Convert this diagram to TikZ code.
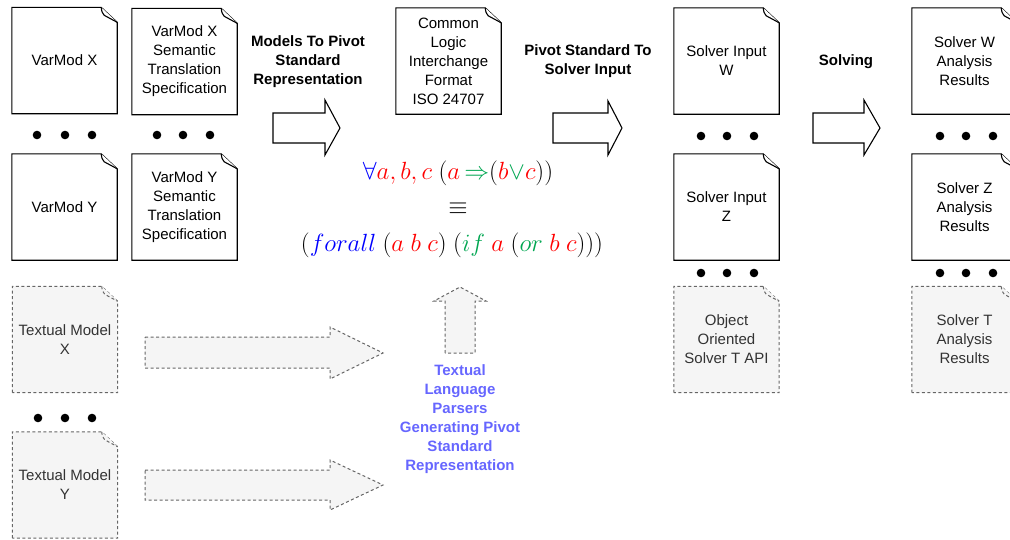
\documentclass[tikz,border=0pt]{standalone}
\usepackage[no-math]{fontspec}
\setmainfont{Liberation Sans}
\usetikzlibrary{backgrounds}
\definecolor{mygreen}{RGB}{0,166,81}
\definecolor{lblue}{RGB}{102,102,255}
\definecolor{dgray}{RGB}{102,102,102}
\definecolor{lgray}{RGB}{245,245,245}
\definecolor{tgray}{RGB}{51,51,51}
\newcommand\doctext{\fontsize{15}{19}\selectfont}
\newcommand\formulatext{\fontsize{23.2}{28}\selectfont}
\tikzset{
  docshape/.style={minimum width=105pt, minimum height=106pt, inner sep=0pt, align=center, font=\doctext},
  graydoc/.style={docshape, text=tgray},
  solidline/.style={draw=black, fill=white, line width=1.1pt},
  dashline/.style={draw=dgray, fill=lgray, line width=1pt, dash pattern=on 3pt off 2.5pt},
  title/.style={align=center, font=\doctext\bfseries},
  dot/.style={fill=black},
}
\begin{document}
\begin{tikzpicture}[x=1pt,y=-1pt]
\useasboundingbox (0,0) rectangle (1010,539);

% documents
\node[docshape] (vx)  at (64.5,60.5) {VarMod X};
\node[docshape] (vxs) at (184.5,61.5) {VarMod X\\Semantic\\Translation\\Specification};
\node[docshape] (vy)  at (64.5,207) {VarMod Y};
\node[docshape] (vys) at (184.5,207) {VarMod Y\\Semantic\\Translation\\Specification};
\node[docshape] (cl)  at (448.5,61) {Common\\Logic\\Interchange\\Format\\ISO 24707};
\node[docshape] (siw) at (726.5,61) {Solver Input\\W};
\node[docshape] (siz) at (726.5,207) {Solver Input\\Z};
\node[graydoc]  (oo)  at (726.5,339.5) {Object\\Oriented\\Solver T API};
\node[docshape] (sw)  at (964.5,61) {Solver W\\Analysis\\Results};
\node[docshape] (sz)  at (964.5,207) {Solver Z\\Analysis\\Results};
\node[graydoc]  (st)  at (964.5,339.5) {Solver T\\Analysis\\Results};
\node[graydoc]  (tmx) at (65,339.5) {Textual Model\\X};
\node[graydoc]  (tmy) at (65,485) {Textual Model\\Y};

\begin{pgfonlayer}{background}
\foreach \n/\st in {vx/solidline, vxs/solidline, vy/solidline, vys/solidline, cl/solidline, siw/solidline, siz/solidline, sw/solidline, sz/solidline, oo/dashline, st/dashline, tmx/dashline, tmy/dashline} {
  \draw[\st] (\n.south west) -- (\n.north west) -- ([xshift=-16pt]\n.north east)
     -- ([yshift=-15pt]\n.north east) -- (\n.south east) -- cycle;
  \draw[\st] ([xshift=-16pt]\n.north east) .. controls +(0.5pt,-4pt) and +(-2pt,2pt) .. ([shift={(-13pt,-8pt)}]\n.north east) -- ([yshift=-15pt]\n.north east);
}
\end{pgfonlayer}

% dots
\foreach \x/\y in {37/135, 65/135, 92/135, 157/135, 183/135, 210/135,
                   38/418, 65/418, 92/418,
                   701/136, 727/136, 754/136, 701/273, 727/273, 754/273,
                   940/136, 966/136, 993/136, 940/273, 966/273, 993/273}
  \fill[dot] (\x,\y) circle (4.3pt);

% block arrows
\draw[solidline] (273,113) -- (325,113) -- (325,100) -- (340,128) -- (325,155) -- (325,143) -- (273,143) -- cycle;
\draw[solidline] (553,113) -- (608,113) -- (608,101) -- (622,128) -- (608,155) -- (608,143) -- (553,143) -- cycle;
\draw[solidline] (813,113) -- (864,113) -- (864,100) -- (880,128) -- (864,155) -- (864,143) -- (813,143) -- cycle;
\draw[dashline] (145,337) -- (330,337) -- (330,327) -- (383,353) -- (330,379) -- (330,368) -- (145,368) -- cycle;
\draw[dashline] (145,470) -- (330,470) -- (330,460) -- (383,485) -- (330,510) -- (330,500) -- (145,500) -- cycle;
\draw[dashline] (445,353) -- (445,301) -- (434,301) -- (460,287) -- (486,301) -- (475,301) -- (475,353) -- cycle;

% titles
\node[title] (t1) at (308,62) {Models To Pivot\\Standard\\Representation};
\node[title] (t2) at (588,61.5) {Pivot Standard To\\Solver Input};
\node[title] (t3) at (846,62) {Solving};
\node[title, text=lblue] (t4) at (460,419) {Textual\\Language\\Parsers\\Generating Pivot\\Standard\\Representation};

% formula
\node[font=\formulatext] (f1) at (458,173)
  {$\color{blue}\forall\color{red}a,b,c\ \color{black}(\color{red}a\,\color{mygreen}{\Rightarrow}\color{black}(\color{red}b\color{mygreen}{\vee}\color{red}c\color{black}))$};
\node[font=\formulatext] (f2) at (458,209) {$\equiv$};
\node[font=\formulatext] (f3) at (452,245)
  {$(\color{blue}forall\ \color{black}(\color{red}a\ b\ c\color{black})\ (\color{mygreen}if\ \color{red}a\ \color{black}(\color{mygreen}or\ \color{red}b\ c\color{black})))$};
\end{tikzpicture}
\end{document}
